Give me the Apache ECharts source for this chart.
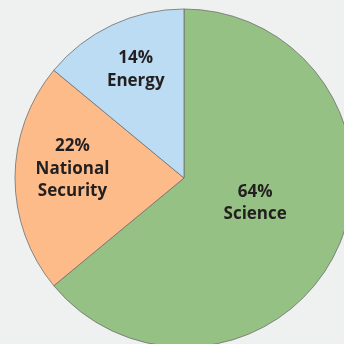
<!DOCTYPE html>
<html><head><meta charset="utf-8">
<script src="https://cdn.jsdelivr.net/npm/echarts@6/dist/echarts.min.js"></script>
<style>html,body{margin:0;padding:0;background:#eff1f0;}#c{width:344px;height:344px;}</style>
</head><body><div id="c"></div>
<script>
const categories = ['Science', 'National\nSecurity', 'Energy'];
const values = [64, 22, 14];
const colors = ['#95c184', '#fdbb8a', '#bcdcf3'];
const labelShift = [[-8, -12], [-24, -9], [-11, -29]];

const chart = echarts.init(document.getElementById('c'));
chart.setOption({
  backgroundColor: '#eff1f0',
  animation: false,
  series: [{
    type: 'pie',
    center: [184, 178],
    radius: [0, 169],
    startAngle: 90,
    clockwise: true,
    silent: true,
    data: categories.map((n, i) => ({ name: n, value: values[i], itemStyle: { color: colors[i] } })),
    itemStyle: { borderColor: '#707070', borderWidth: 0.8 },
    label: {
      show: true,
      position: 'inside',
      formatter: p => p.value + '%\n' + p.name,
      fontFamily: 'Open Sans',
      fontWeight: 'bold',
      fontSize: 17,
      lineHeight: 22.5,
      color: '#231f20',
      align: 'center'
    },
    labelLine: { show: false },
    labelLayout: p => ({ dx: labelShift[p.dataIndex][0], dy: labelShift[p.dataIndex][1] })
  }]
});
</script></body></html>
